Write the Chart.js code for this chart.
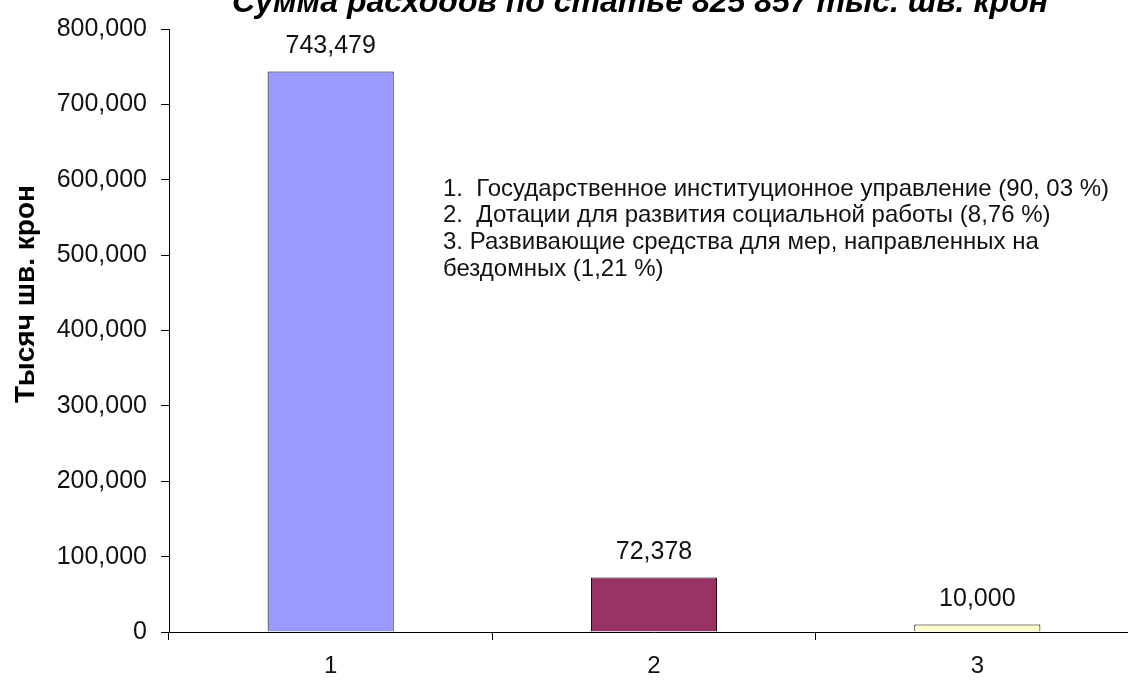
<!DOCTYPE html>
<html>
<head>
<meta charset="utf-8">
<script src="https://cdn.jsdelivr.net/npm/chart.js@4"></script>
<style>
  html, body { margin: 0; padding: 0; background: #fff; overflow: hidden; }
  #wrap { width: 1145px; height: 681px; }
</style>
</head>
<body>
<div id="wrap"><canvas id="spendChart"></canvas></div>
<script>
const categories = ["1", "2", "3"];
const amounts = [743479, 72378, 10000];
const barColors = ["#9999FF", "#993366", "#FFFFCC"];
const chartTitle = "Сумма расходов по статье 825 857 тыс. шв. крон";
const yTitle = "Тысяч шв. крон";
const noteLines = [
  "1.  Государственное институционное управление (90, 03 %)",
  "2.  Дотации для развития социальной работы (8,76 %)",
  "3. Развивающие средства для мер, направленных на",
  "бездомных (1,21 %)",
];

const fontFamily = "'Liberation Sans', Arial, sans-serif";

function fmt(v) {
  return v.toLocaleString("en-US");
}

// title, axis title, note text and bar values
const textPlugin = {
  id: "texts",
  afterDatasetsDraw(chart) {
    const ctx = chart.ctx;
    ctx.save();
    ctx.fillStyle = "#000";

    // title (partly cut off at the top, like the picture)
    ctx.font = "italic bold 32px " + fontFamily;
    ctx.textAlign = "center";
    ctx.textBaseline = "alphabetic";
    ctx.fillText(chartTitle, 640, 12);

    // y axis title
    ctx.save();
    ctx.translate(26, 294);
    ctx.rotate(-Math.PI / 2);
    ctx.font = "bold 28px " + fontFamily;
    ctx.textBaseline = "middle";
    ctx.fillText(yTitle, 0, 0);
    ctx.restore();

    // note block
    ctx.font = "24px " + fontFamily;
    ctx.textAlign = "left";
    ctx.textBaseline = "middle";
    ctx.fillStyle = "#111";
    noteLines.forEach((line, i) => {
      ctx.fillText(line, 443, 189 + i * 26.7);
    });

    // values above bars
    ctx.font = "25px " + fontFamily;
    ctx.textAlign = "center";
    const meta = chart.getDatasetMeta(0);
    meta.data.forEach((bar, i) => {
      ctx.fillText(fmt(amounts[i]), bar.x, bar.y - 25);
    });
    ctx.restore();
  },
};

const ctx = document.getElementById("spendChart").getContext("2d");

new Chart(ctx, {
  type: "bar",
  data: {
    labels: categories,
    datasets: [
      {
        data: amounts,
        backgroundColor: barColors,
        borderColor: "#000",
        borderWidth: 1,
        categoryPercentage: 1,
        barPercentage: 0.39,
      },
    ],
  },
  options: {
    responsive: true,
    maintainAspectRatio: false,
    animation: false,
    layout: {
      padding: { top: 25, right: 6, left: 9, bottom: 0 },
    },
    plugins: {
      legend: { display: false },
      tooltip: { enabled: false },
    },
    scales: {
      x: {
        grid: {
          display: true,
          drawOnChartArea: false,
          color: "#000",
          tickLength: 8,
        },
        border: { display: true, color: "#000", width: 1 },
        ticks: {
          color: "#111",
          padding: 12,
          font: { family: fontFamily, size: 24 },
        },
        afterFit(scale) {
          scale.height = 49;
        },
      },
      y: {
        min: 0,
        max: 800000,
        grid: {
          display: true,
          drawOnChartArea: false,
          color: "#000",
          tickLength: 8,
        },
        border: { display: true, color: "#000", width: 1 },
        ticks: {
          stepSize: 100000,
          color: "#111",
          padding: 14,
          font: { family: fontFamily, size: 25 },
          callback: (v) => fmt(v),
        },
        afterFit(scale) {
          scale.width = 160;
        },
      },
    },
  },
  plugins: [textPlugin],
});
</script>
</body>
</html>
